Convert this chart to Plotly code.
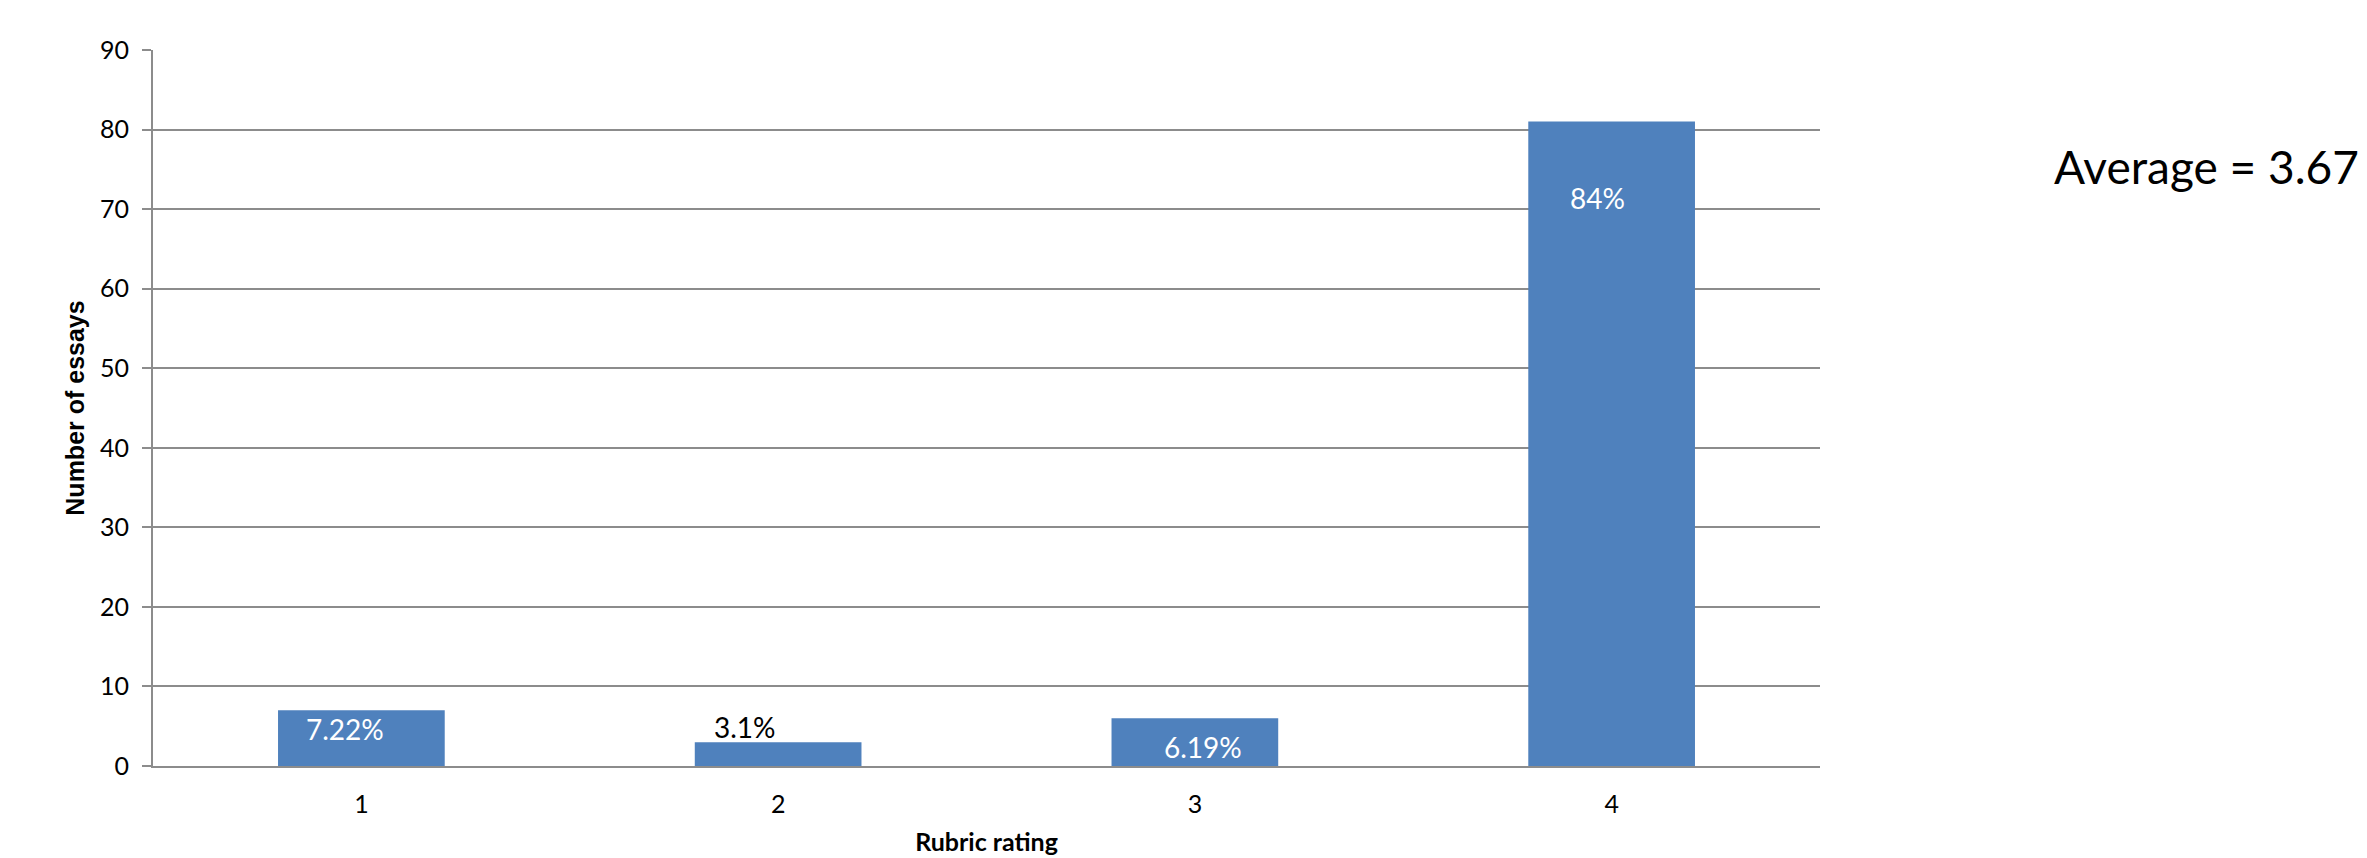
import plotly.graph_objects as go

# Rubric ratings and essay counts
ratings = [1, 2, 3, 4]
rating_labels = ["1", "2", "3", "4"]
essay_counts = [7, 3, 6, 81]
pct_labels = ["7.22%", "3.1%", "6.19%", "84%"]
label_colors = ["white", "black", "white", "white"]
# label offsets in pixels from the top of each bar
label_xshift = [-16, -33, 8, -14]
label_yshift = [-19, 15, -29, -76]
average_text = "Average = 3.67"

y_ticks = list(range(0, 91, 10))

BAR_COLOR = "#4F81BD"
GRID_COLOR = "#8C8C8C"
FONT = "Lato, 'Open Sans', sans-serif"

fig = go.Figure()
fig.add_trace(go.Bar(
    x=ratings,
    y=essay_counts,
    marker=dict(color=BAR_COLOR, line=dict(width=0)),
    width=0.4,
    hoverinfo="x+y",
))

for r, v, txt, col, dx, dy in zip(ratings, essay_counts, pct_labels,
                                  label_colors, label_xshift, label_yshift):
    fig.add_annotation(
        x=r, y=v, xref="x", yref="y",
        text=txt, showarrow=False,
        font=dict(family=FONT, size=28, color=col),
        xanchor="center", yanchor="middle",
        xshift=dx, yshift=dy,
    )

fig.add_annotation(
    x=1.3245, y=0.8366, xref="paper", yref="paper",
    text=average_text, showarrow=False,
    font=dict(family=FONT, size=46, color="black"),
    xanchor="right", yanchor="middle",
)

fig.update_layout(
    width=2367, height=858,
    margin=dict(l=153, r=547, t=50, b=92, autoexpand=False),
    paper_bgcolor="white", plot_bgcolor="white",
    showlegend=False,
    xaxis=dict(
        range=[0.5, 4.5],
        tickvals=ratings, ticktext=rating_labels,
        showline=True, linecolor=GRID_COLOR, linewidth=2,
        ticks="", showgrid=False, zeroline=False,
        tickfont=dict(family=FONT, size=25, color="black"),
        ticklabelstandoff=15,
        automargin=False,
        title=dict(text="<b>Rubric rating</b>",
                   font=dict(family=FONT, size=25, color="black"),
                   standoff=16),
    ),
    yaxis=dict(
        range=[0, 90],
        tickvals=y_ticks,
        showline=True, linecolor=GRID_COLOR, linewidth=2,
        showgrid=True, gridcolor=GRID_COLOR, gridwidth=2,
        zeroline=False,
        ticks="outside", ticklen=9, tickwidth=2, tickcolor=GRID_COLOR,
        tickfont=dict(family=FONT, size=25, color="black"),
        ticklabelstandoff=8,
        automargin=False,
        title=dict(text="<b>Number of essays</b>",
                   font=dict(family="'Liberation Sans', Arial, sans-serif",
                             size=25, color="black"),
                   standoff=8),
    ),
)

fig.write_html("out.html")
